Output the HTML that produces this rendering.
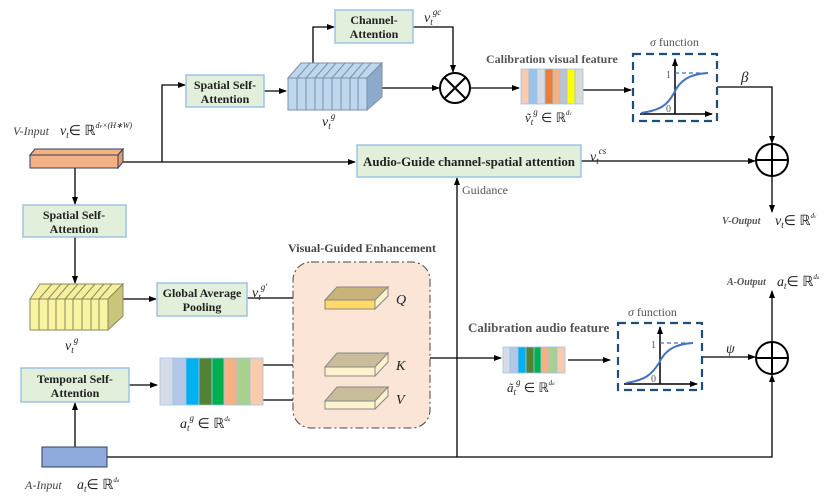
<!DOCTYPE html>
<html><head><meta charset="utf-8"><style>
body{margin:0;background:#fff}
svg{display:block}
text{font-family:"Liberation Serif",serif}
.b{font-weight:bold;font-size:12px;fill:#222}
.m{font-style:italic;font-size:14px;fill:#222}
</style></head><body>
<svg width="831" height="501" viewBox="0 0 831 501" xmlns="http://www.w3.org/2000/svg">
<defs>
<marker id="a" markerWidth="8" markerHeight="8" refX="7" refY="4" orient="auto" markerUnits="userSpaceOnUse"><path d="M0,1 L8,4 L0,7z" fill="#000"/></marker>
</defs>
<g stroke="#000" stroke-width="1.3" fill="none">
<line x1="120" y1="162" x2="355" y2="162" marker-end="url(#a)"/>
<polyline points="162,162 162,85 185,85" marker-end="url(#a)"/>
<line x1="75" y1="168" x2="75" y2="204" marker-end="url(#a)"/>
<line x1="264" y1="91" x2="286" y2="91" marker-end="url(#a)"/>
<polyline points="313,63 313,27 334,27" marker-end="url(#a)"/>
<polyline points="413,27 453,27 453,72" marker-end="url(#a)"/>
<line x1="377" y1="88" x2="439" y2="88" marker-end="url(#a)"/>
<line x1="471" y1="88" x2="519" y2="88" marker-end="url(#a)"/>
<line x1="583" y1="90" x2="631" y2="90" marker-end="url(#a)"/>
<polyline points="717,87 772,87 772,143" marker-end="url(#a)"/>
<line x1="581" y1="161" x2="755" y2="161" marker-end="url(#a)"/>
<line x1="772" y1="176" x2="772" y2="212" marker-end="url(#a)"/>
<polyline points="457,457 457,178" marker-end="url(#a)"/>
<line x1="75" y1="237" x2="75" y2="283" marker-end="url(#a)"/>
<line x1="123" y1="299" x2="156" y2="299" marker-end="url(#a)"/>
<line x1="247" y1="298" x2="323" y2="298" marker-end="url(#a)"/>
<line x1="129" y1="385" x2="157" y2="385" marker-end="url(#a)"/>
<line x1="263" y1="365" x2="323" y2="365" marker-end="url(#a)"/>
<line x1="263" y1="400" x2="323" y2="400" marker-end="url(#a)"/>
<line x1="75" y1="447" x2="75" y2="403" marker-end="url(#a)"/>
<polyline points="107,457 772,457 772,375" marker-end="url(#a)"/>
<line x1="425" y1="358" x2="501" y2="358" marker-end="url(#a)"/>
<line x1="568" y1="360" x2="610" y2="360" marker-end="url(#a)"/>
<line x1="702" y1="357" x2="755" y2="357" marker-end="url(#a)"/>
<line x1="772" y1="342" x2="772" y2="291" marker-end="url(#a)"/>
</g>
<g fill="#e2efda" stroke="#9dc3e6" stroke-width="1.5">
<rect x="335" y="10" width="78" height="33"/>
<rect x="186" y="75" width="78" height="32"/>
<rect x="23" y="205" width="103" height="32"/>
<rect x="357" y="145" width="224" height="32"/>
<rect x="157" y="283" width="90" height="33"/>
<rect x="21" y="368" width="108" height="34"/>
</g>
<g class="b" text-anchor="middle">
<text x="374" y="24">Channel-</text><text x="374" y="38">Attention</text>
<text x="225" y="89">Spatial Self-</text><text x="225" y="103">Attention</text>
<text x="74" y="219">Spatial Self-</text><text x="74" y="233">Attention</text>
<text x="469" y="166" style="font-size:13px" textLength="212" lengthAdjust="spacingAndGlyphs">Audio-Guide channel-spatial attention</text>
<text x="202" y="297">Global Average</text><text x="202" y="311">Pooling</text>
<text x="75" y="383">Temporal Self-</text><text x="75" y="397">Attention</text>
</g>
<polygon points="30,155 35,149 123,149 118,155" fill="#f4b183" stroke="#2f3f5f"/>
<polygon points="118,155 123,149 123,162 118,168" fill="#e49a6a" stroke="#2f3f5f"/>
<rect x="30" y="155" width="88" height="13" fill="#f4b183" stroke="#2f3f5f"/>
<polygon points="288,78 301,63 382,63 367,78" fill="#bdd7ee" stroke="#7f8fa0"/>
<polygon points="367,78 382,63 382,97 367,110" fill="#8eaacb" stroke="#7f8fa0"/>
<rect x="288" y="78" width="79" height="32" fill="#bdd7ee" stroke="#7f8fa0"/>
<g stroke="#7f8fa0">
<path d="M297,78v32M306,78v32M315,78v32M323,78v32M332,78v32M341,78v32M350,78v32M358,78v32"/>
<path d="M297,78l13,-15M306,78l13,-15M315,78l13,-15M323,78l13,-15M332,78l13,-15M341,78l13,-15M350,78l13,-15M358,78l13,-15"/>
</g>
<polygon points="30,299 40,284 123,284 108,299" fill="#f6f09c" stroke="#8a8a60"/>
<polygon points="108,299 123,284 123,316 108,330" fill="#c9c67a" stroke="#8a8a60"/>
<rect x="30" y="299" width="78" height="31" fill="#f8f4a0" stroke="#8a8a60"/>
<g stroke="#8a8a60">
<path d="M39,299v31M48,299v31M56,299v31M65,299v31M73,299v31M82,299v31M91,299v31M99,299v31"/>
<path d="M39,299l13,-15M48,299l13,-15M56,299l13,-15M65,299l13,-15M73,299l13,-15M82,299l13,-15M91,299l13,-15M99,299l13,-15"/>
</g>
<circle cx="455" cy="88" r="15" fill="#fff" stroke="#000" stroke-width="2"/>
<path d="M444,77l22,22M466,77l-22,22" stroke="#000" stroke-width="2"/>
<circle cx="772" cy="160" r="16" fill="none" stroke="#000" stroke-width="2"/>
<path d="M756,160h32M772,144v32" stroke="#000" stroke-width="2"/>
<circle cx="772" cy="358" r="16" fill="none" stroke="#000" stroke-width="2"/>
<path d="M756,358h32M772,342v32" stroke="#000" stroke-width="2"/>
<g stroke="#9dc3e6" stroke-width="0.8">
<rect x="521" y="69" width="8" height="35" fill="#f8cbad"/>
<rect x="529" y="69" width="8" height="35" fill="#9dc3e6"/>
<rect x="537" y="69" width="8" height="35" fill="#d6dce5"/>
<rect x="545" y="69" width="8" height="35" fill="#ed7d31"/>
<rect x="553" y="69" width="7" height="35" fill="#f4b183"/>
<rect x="560" y="69" width="7" height="35" fill="#c0c4c8"/>
<rect x="567" y="69" width="8" height="35" fill="#ffff00"/>
<rect x="575" y="69" width="8" height="35" fill="#d9d9d9"/>
</g>
<g stroke="#9dc3e6" stroke-width="0.8">
<rect x="160" y="358" width="13" height="47" fill="#d6dce5"/>
<rect x="173" y="358" width="13" height="47" fill="#b4c7e7"/>
<rect x="186" y="358" width="13" height="47" fill="#00b0f0"/>
<rect x="199" y="358" width="13" height="47" fill="#548235"/>
<rect x="212" y="358" width="12" height="47" fill="#00b050"/>
<rect x="224" y="358" width="13" height="47" fill="#f4b183"/>
<rect x="237" y="358" width="13" height="47" fill="#a9d18e"/>
<rect x="250" y="358" width="13" height="47" fill="#f8cbad"/>
</g>
<g stroke="#9dc3e6" stroke-width="0.8">
<rect x="503" y="347" width="7" height="26" fill="#d6dce5"/>
<rect x="510" y="347" width="8" height="26" fill="#b4c7e7"/>
<rect x="518" y="347" width="8" height="26" fill="#00b0f0"/>
<rect x="526" y="347" width="8" height="26" fill="#548235"/>
<rect x="534" y="347" width="7" height="26" fill="#00b050"/>
<rect x="541" y="347" width="8" height="26" fill="#f4b183"/>
<rect x="549" y="347" width="8" height="26" fill="#a9d18e"/>
<rect x="557" y="347" width="8" height="26" fill="#f8cbad"/>
</g>
<g>
<rect x="633" y="54" width="84" height="67" fill="none" stroke="#1f4e79" stroke-width="2.2" stroke-dasharray="8,5"/>
<line x1="675" y1="114" x2="675" y2="59" stroke="#000" stroke-width="1.5" marker-end="url(#a)"/>
<line x1="640" y1="114" x2="712" y2="114" stroke="#000" stroke-width="1.5" marker-end="url(#a)"/>
<line x1="675" y1="73" x2="710" y2="73" stroke="#4472c4" stroke-width="1.3" stroke-dasharray="4,3"/>
<path d="M641,113 C662,110 668,104 674,93 C680,80 690,74 708,73" fill="none" stroke="#4472c4" stroke-width="2"/>
<text x="666" y="78" font-size="10" fill="#555">1</text><text x="666" y="112" font-size="10" fill="#555">0</text>
<rect x="618" y="323" width="84" height="67" fill="none" stroke="#1f4e79" stroke-width="2.2" stroke-dasharray="8,5"/>
<line x1="660" y1="384" x2="660" y2="327" stroke="#000" stroke-width="1.5" marker-end="url(#a)"/>
<line x1="624" y1="384" x2="697" y2="384" stroke="#000" stroke-width="1.5" marker-end="url(#a)"/>
<line x1="660" y1="343" x2="695" y2="343" stroke="#4472c4" stroke-width="1.3" stroke-dasharray="4,3"/>
<path d="M626,383 C646,380 652,374 659,363 C665,350 675,344 693,343" fill="none" stroke="#4472c4" stroke-width="2"/>
<text x="651" y="348" font-size="10" fill="#555">1</text><text x="651" y="382" font-size="10" fill="#555">0</text>
</g>
<rect x="293" y="262" width="137" height="166" rx="18" fill="#fbe5d6" stroke="#444" stroke-width="1" stroke-dasharray="8,3,2,3"/>
<text x="362" y="252" text-anchor="middle" class="b" style="fill:#444">Visual-Guided Enhancement</text>
<g stroke="#888" stroke-width="1">
<polygon points="325,300 337,287 388,287 375,300" fill="#c9b37a"/>
<polygon points="375,300 388,287 388,296 375,309" fill="#fff2cc"/>
<rect x="325" y="300" width="50" height="9" fill="#ffd966"/>
<polygon points="325,367 337,353 388,353 375,367" fill="#c9bd9a"/>
<polygon points="375,367 388,353 388,362 375,376" fill="#fff2cc"/>
<rect x="325" y="367" width="50" height="9" fill="#fff2cc"/>
<polygon points="325,401 337,387 388,387 375,401" fill="#c9bd9a"/>
<polygon points="375,401 388,387 388,396 375,409" fill="#fff2cc"/>
<rect x="325" y="401" width="50" height="8" fill="#fff2cc"/>
</g>
<g class="m" font-size="15">
<text x="396" y="304">Q</text><text x="396" y="370">K</text><text x="396" y="404">V</text>
</g>
<text x="13" y="135" class="m" style="font-size:12px;fill:#444">V-Input</text>
<text x="60" y="135" class="m">v<tspan font-size="9" dy="3">t</tspan><tspan dy="-3" font-style="normal">∈ ℝ</tspan><tspan font-size="8" dy="-7">d<tspan font-size="6">v</tspan>×(H∗W)</tspan></text>
<text x="322" y="126" class="m">v<tspan font-size="9" dy="3">t</tspan><tspan font-size="9" dy="-10">g</tspan></text>
<text x="65" y="350" class="m">v<tspan font-size="9" dy="3">t</tspan><tspan font-size="9" dy="-10">g</tspan></text>
<text x="252" y="297" class="m">v<tspan font-size="9" dy="3">t</tspan><tspan font-size="9" dy="-10">g'</tspan></text>
<text x="424" y="22" class="m">v<tspan font-size="9" dy="3">t</tspan><tspan font-size="9" dy="-10">gc</tspan></text>
<text x="590" y="161" class="m">v<tspan font-size="9" dy="3">t</tspan><tspan font-size="9" dy="-10">cs</tspan></text>
<text x="486" y="63" class="b" style="fill:#555">Calibration visual feature</text>
<text x="525" y="122" class="m" style="font-size:13px">ṽ<tspan font-size="9" dy="3">t</tspan><tspan font-size="9" dy="-10">g</tspan><tspan dy="7" font-style="normal"> ∈ ℝ</tspan><tspan font-size="7" dy="-7">d<tspan font-size="5">v</tspan></tspan></text>
<text x="650" y="46" font-size="12" fill="#555"><tspan font-style="italic">σ</tspan> function</text>
<text x="741" y="82" class="m" style="font-size:15px">β</text>
<text x="462" y="194" font-size="12" fill="#555">Guidance</text>
<text x="722" y="224" class="m" style="font-size:10px;font-weight:bold;fill:#555">V-Output</text>
<text x="775" y="225" class="m">v<tspan font-size="9" dy="3">t</tspan><tspan dy="-3" font-style="normal">∈ ℝ</tspan><tspan font-size="7" dy="-7">d<tspan font-size="5">v</tspan></tspan></text>
<text x="727" y="285" class="m" style="font-size:10px;font-weight:bold;fill:#555">A-Output</text>
<text x="777" y="286" class="m">a<tspan font-size="9" dy="3">t</tspan><tspan dy="-3" font-style="normal">∈ ℝ</tspan><tspan font-size="7" dy="-7">d<tspan font-size="5">a</tspan></tspan></text>
<text x="468" y="332" class="b" style="fill:#555;font-size:13px">Calibration audio feature</text>
<text x="507" y="392" class="m" style="font-size:13px">ã<tspan font-size="9" dy="3">t</tspan><tspan font-size="9" dy="-10">g</tspan><tspan dy="7" font-style="normal"> ∈ ℝ</tspan><tspan font-size="7" dy="-7">d<tspan font-size="5">a</tspan></tspan></text>
<text x="628" y="316" font-size="12" fill="#555"><tspan font-style="italic">σ</tspan> function</text>
<text x="726" y="353" class="m" style="font-size:14px">ψ</text>
<text x="180" y="428" class="m">a<tspan font-size="9" dy="3">t</tspan><tspan font-size="9" dy="-10">g</tspan><tspan dy="7" font-style="normal"> ∈ ℝ</tspan><tspan font-size="7" dy="-7">d<tspan font-size="5">a</tspan></tspan></text>
<rect x="42" y="447" width="65" height="20" fill="#8faadc" stroke="#2f3f5f"/>
<text x="25" y="489" class="m" style="font-size:12px;fill:#444">A-Input</text>
<text x="77" y="489" class="m">a<tspan font-size="9" dy="3">t</tspan><tspan dy="-3" font-style="normal">∈ ℝ</tspan><tspan font-size="7" dy="-7">d<tspan font-size="5">a</tspan></tspan></text>
</svg>
</body></html>
